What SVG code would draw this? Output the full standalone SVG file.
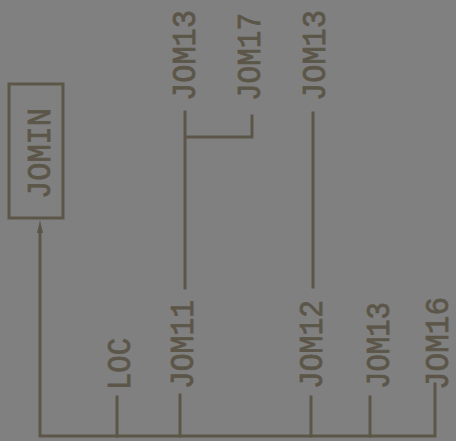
<svg xmlns="http://www.w3.org/2000/svg" width="456" height="441" viewBox="0 0 456 441">
<style>
.ln{stroke:#5c5649;stroke-width:3;fill:none;stroke-linecap:square}
.t{font-family:"Liberation Mono","DejaVu Sans Mono",monospace;font-size:33px;fill:#5c5649;stroke:#5c5649;stroke-width:0.8}
</style>
<rect width="456" height="441" fill="#808080"/>
<g id="JOMIN">
<rect class="ln" x="9" y="84" width="54" height="134"/>
<text class="t" transform="translate(50,199) rotate(-90)" textLength="91" lengthAdjust="spacingAndGlyphs">JOMIN</text>
</g>
<g id="LOC"><text class="t" transform="translate(130,390) rotate(-90)" textLength="52" lengthAdjust="spacingAndGlyphs">LOC</text></g>
<g id="JOM11"><text class="t" transform="translate(193,389) rotate(-90)" textLength="89" lengthAdjust="spacingAndGlyphs">JOM11</text></g>
<g id="JOM12"><text class="t" transform="translate(322,389) rotate(-90)" textLength="89" lengthAdjust="spacingAndGlyphs">JOM12</text></g>
<g id="JOM13c"><text class="t" transform="translate(389,389) rotate(-90)" textLength="87" lengthAdjust="spacingAndGlyphs">JOM13</text></g>
<g id="JOM16"><text class="t" transform="translate(448,390) rotate(-90)" textLength="93" lengthAdjust="spacingAndGlyphs">JOM16</text></g>
<g id="JOM13a"><text class="t" transform="translate(195,101) rotate(-90)" textLength="91" lengthAdjust="spacingAndGlyphs">JOM13</text></g>
<g id="JOM17"><text class="t" transform="translate(260,101) rotate(-90)" textLength="88" lengthAdjust="spacingAndGlyphs">JOM17</text></g>
<g id="JOM13b"><text class="t" transform="translate(325,101) rotate(-90)" textLength="91" lengthAdjust="spacingAndGlyphs">JOM13</text></g>
<g id="connectors">
<path class="ln" d="M40,230 V436 H435 V384"/>
<polygon points="40,220 43,233 37,233" fill="#5c5649"/>
<path class="ln" d="M117,397 V436 M180,395 V436 M311,397 V436 M370,397 V436"/>
<path class="ln" d="M185,112 V288 M185,137 H252 V116 M313,113 V287"/>
</g>
</svg>
